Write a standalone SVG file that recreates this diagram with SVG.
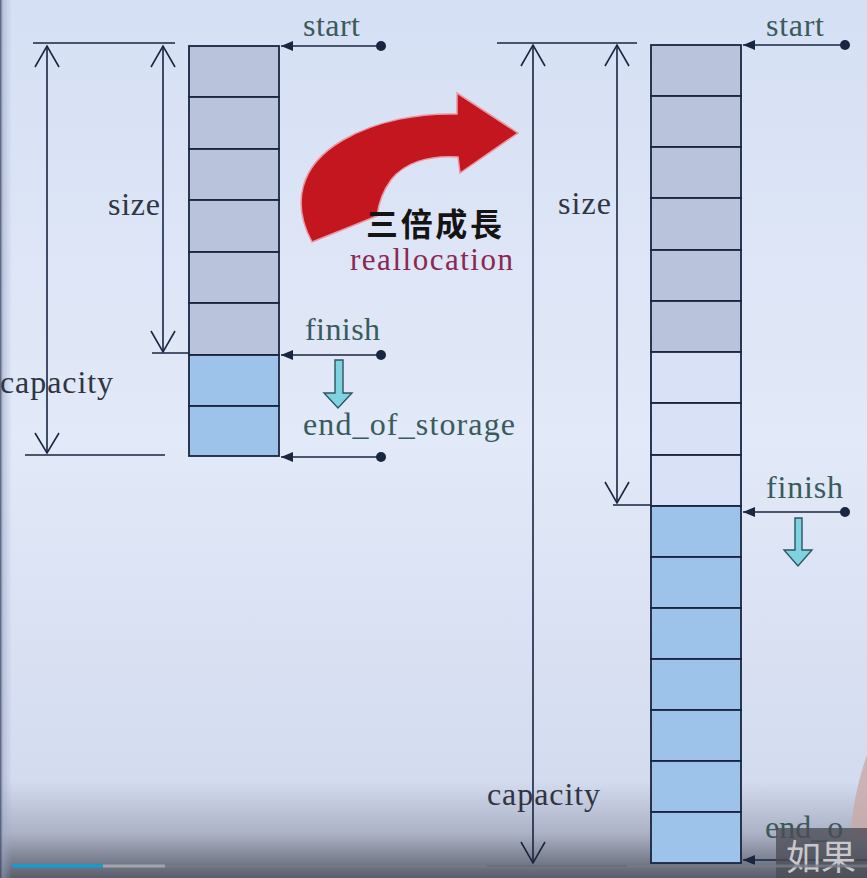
<svg xmlns="http://www.w3.org/2000/svg" width="867" height="878" viewBox="0 0 867 878">
<defs>
<linearGradient id="bg" x1="0" y1="0" x2="0" y2="1">
<stop offset="0" stop-color="#d6e0f4"/>
<stop offset="0.5" stop-color="#e2e9f8"/>
<stop offset="0.89" stop-color="#d3dbef"/>
<stop offset="0.95" stop-color="#abb1c4"/>
<stop offset="1" stop-color="#595d6b"/>
</linearGradient>
<linearGradient id="lside" x1="0" y1="0" x2="1" y2="0">
<stop offset="0" stop-color="#3a4256" stop-opacity="0.9"/>
<stop offset="0.25" stop-color="#9aa6c8" stop-opacity="0.5"/>
<stop offset="1" stop-color="#9aa6c8" stop-opacity="0"/>
</linearGradient>
<marker id="fa" viewBox="0 0 12 10" refX="12" refY="5" markerWidth="12" markerHeight="10" markerUnits="userSpaceOnUse" orient="auto">
<path d="M0 0 L12 5 L0 10 Z" fill="#1a2540"/>
</marker>
</defs>
<style>
.ln{stroke:#1a2540;stroke-width:1.6;fill:none}
.cell{stroke:#1a2540;stroke-width:1.8}
.g{fill:#b9c3db}
.e{fill:#d8e1f5}
.b{fill:#9ec3ea}
.lbl{font-family:"Liberation Serif","Times New Roman",serif;font-size:32px;fill:#3a5a5c}
.dim{font-family:"Liberation Serif","Times New Roman",serif;font-size:32px;fill:#2f3542}
.dot{fill:#1a2540}
.hol{fill:#7fd3e0;stroke:#2c5560;stroke-width:1.4}
</style>
<rect x="0" y="0" width="867" height="878" fill="url(#bg)"/>
<rect x="0" y="0" width="12" height="878" fill="url(#lside)"/>

<g id="connectors">
<!-- left dimension lines -->
<line class="ln" x1="33" y1="43" x2="175" y2="43"/>
<line class="ln" x1="25" y1="455" x2="165" y2="455"/>
<line class="ln" x1="47" y1="46" x2="47" y2="453"/>
<polyline class="ln" points="35,67 47,46 59,67"/>
<polyline class="ln" points="35,433 47,453 59,433"/>
<line class="ln" x1="163" y1="46" x2="163" y2="352"/>
<polyline class="ln" points="151,67 163,46 175,67"/>
<polyline class="ln" points="151,331 163,352 175,331"/>
<line class="ln" x1="152" y1="353" x2="190" y2="353"/>
<!-- left pointers -->
<line class="ln" x1="381" y1="46" x2="281" y2="46" marker-end="url(#fa)"/>
<line class="ln" x1="381" y1="355" x2="281" y2="355" marker-end="url(#fa)"/>
<line class="ln" x1="381" y1="457" x2="281" y2="457" marker-end="url(#fa)"/>
<!-- right dimension lines -->
<line class="ln" x1="497" y1="43" x2="637" y2="43"/>
<line class="ln" x1="487" y1="866" x2="627" y2="866"/>
<line class="ln" x1="533" y1="45" x2="533" y2="863"/>
<polyline class="ln" points="521,66 533,45 545,66"/>
<polyline class="ln" points="521,842 533,863 545,842"/>
<line class="ln" x1="617" y1="45" x2="617" y2="503"/>
<polyline class="ln" points="605,66 617,45 629,66"/>
<polyline class="ln" points="605,482 617,503 629,482"/>
<line class="ln" x1="613" y1="505" x2="651" y2="505"/>
<!-- right pointers -->
<line class="ln" x1="845" y1="45" x2="743" y2="45" marker-end="url(#fa)"/>
<line class="ln" x1="845" y1="512" x2="743" y2="512" marker-end="url(#fa)"/>
<line class="ln" x1="870" y1="860" x2="743" y2="860" marker-end="url(#fa)"/>
</g>

<g id="left-vector">
<rect class="cell g" x="189" y="46" width="90" height="51"/>
<rect class="cell g" x="189" y="97" width="90" height="52"/>
<rect class="cell g" x="189" y="149" width="90" height="51"/>
<rect class="cell g" x="189" y="200" width="90" height="52"/>
<rect class="cell g" x="189" y="252" width="90" height="51"/>
<rect class="cell g" x="189" y="303" width="90" height="52"/>
<rect class="cell b" x="189" y="355" width="90" height="51"/>
<rect class="cell b" x="189" y="406" width="90" height="50"/>
</g>

<g id="left-labels">
<text class="lbl" x="303" y="36" textLength="57">start</text>
<text class="dim" x="108" y="215" textLength="52">size</text>
<text class="lbl" x="305" y="340" textLength="75">finish</text>
<text class="dim" x="0" y="393" textLength="113">capacity</text>
<text class="lbl" x="303" y="435" textLength="212">end_of_storage</text>
<circle class="dot" cx="381" cy="46" r="5"/>
<circle class="dot" cx="381" cy="355" r="5"/>
<circle class="dot" cx="381" cy="457" r="5"/>
<path class="hol" d="M335 360 L343 360 L343 393 L352 393 L338 408 L324 393 L335 393 Z"/>
</g>

<g id="realloc">
<path d="M312 242 C292 205 298 166 343 140 C378 120 420 113 457 114 L457 93 L518 133 L460 173 L458 157 C428 155 404 163 391 180 C380 195 378 208 377 216 Z" fill="#c4161f" stroke="#e89aa4" stroke-width="1.5"/>
<text x="366" y="236" font-family="'Noto Sans CJK TC','Noto Sans CJK SC',sans-serif" font-weight="bold" font-size="32" fill="#141414" textLength="136">三倍成長</text>
<text x="350" y="270" font-family="'Liberation Serif','Times New Roman',serif" font-size="31" fill="#8a2752" textLength="163">reallocation</text>
</g>

<g id="right-vector">
<rect class="cell g" x="651" y="45" width="90" height="51"/>
<rect class="cell g" x="651" y="96" width="90" height="51"/>
<rect class="cell g" x="651" y="147" width="90" height="51"/>
<rect class="cell g" x="651" y="198" width="90" height="52"/>
<rect class="cell g" x="651" y="250" width="90" height="51"/>
<rect class="cell g" x="651" y="301" width="90" height="51"/>
<rect class="cell e" x="651" y="352" width="90" height="51"/>
<rect class="cell e" x="651" y="403" width="90" height="52"/>
<rect class="cell e" x="651" y="455" width="90" height="51"/>
<rect class="cell b" x="651" y="506" width="90" height="51"/>
<rect class="cell b" x="651" y="557" width="90" height="51"/>
<rect class="cell b" x="651" y="608" width="90" height="51"/>
<rect class="cell b" x="651" y="659" width="90" height="51"/>
<rect class="cell b" x="651" y="710" width="90" height="51"/>
<rect class="cell b" x="651" y="761" width="90" height="51"/>
<rect class="cell b" x="651" y="812" width="90" height="51"/>
</g>

<g id="right-labels">
<text class="lbl" x="766" y="36" textLength="58">start</text>
<text class="dim" x="558" y="214" textLength="53">size</text>
<text class="lbl" x="766" y="498" textLength="77">finish</text>
<text class="dim" x="487" y="805" textLength="113">capacity</text>
<text class="lbl" x="765" y="838">end_o</text>
<circle class="dot" cx="845" cy="45" r="5"/>
<circle class="dot" cx="845" cy="512" r="5"/>
<path class="hol" d="M795 518 L802 518 L802 550 L812 550 L798 566 L784 550 L795 550 Z"/>
</g>

<g id="overlay">
<path d="M867 755 C858 780 852 810 850 840 L867 840 Z" fill="#c9a9a8" opacity="0.8"/>
<rect x="776" y="828" width="91" height="50" fill="#4a4c55" opacity="0.78"/>
<text x="786" y="870" font-family="'Noto Sans CJK SC',sans-serif" font-size="35" fill="#c8c8cc">如果</text>
<line x1="12" y1="866" x2="103" y2="866" stroke="#0aa0dc" stroke-width="3"/>
<line x1="103" y1="866" x2="165" y2="866" stroke="#a4a6ad" stroke-width="3"/>
<line x1="165" y1="866" x2="867" y2="866" stroke="#777b87" stroke-width="3" opacity="0.8"/>
</g>
</svg>
